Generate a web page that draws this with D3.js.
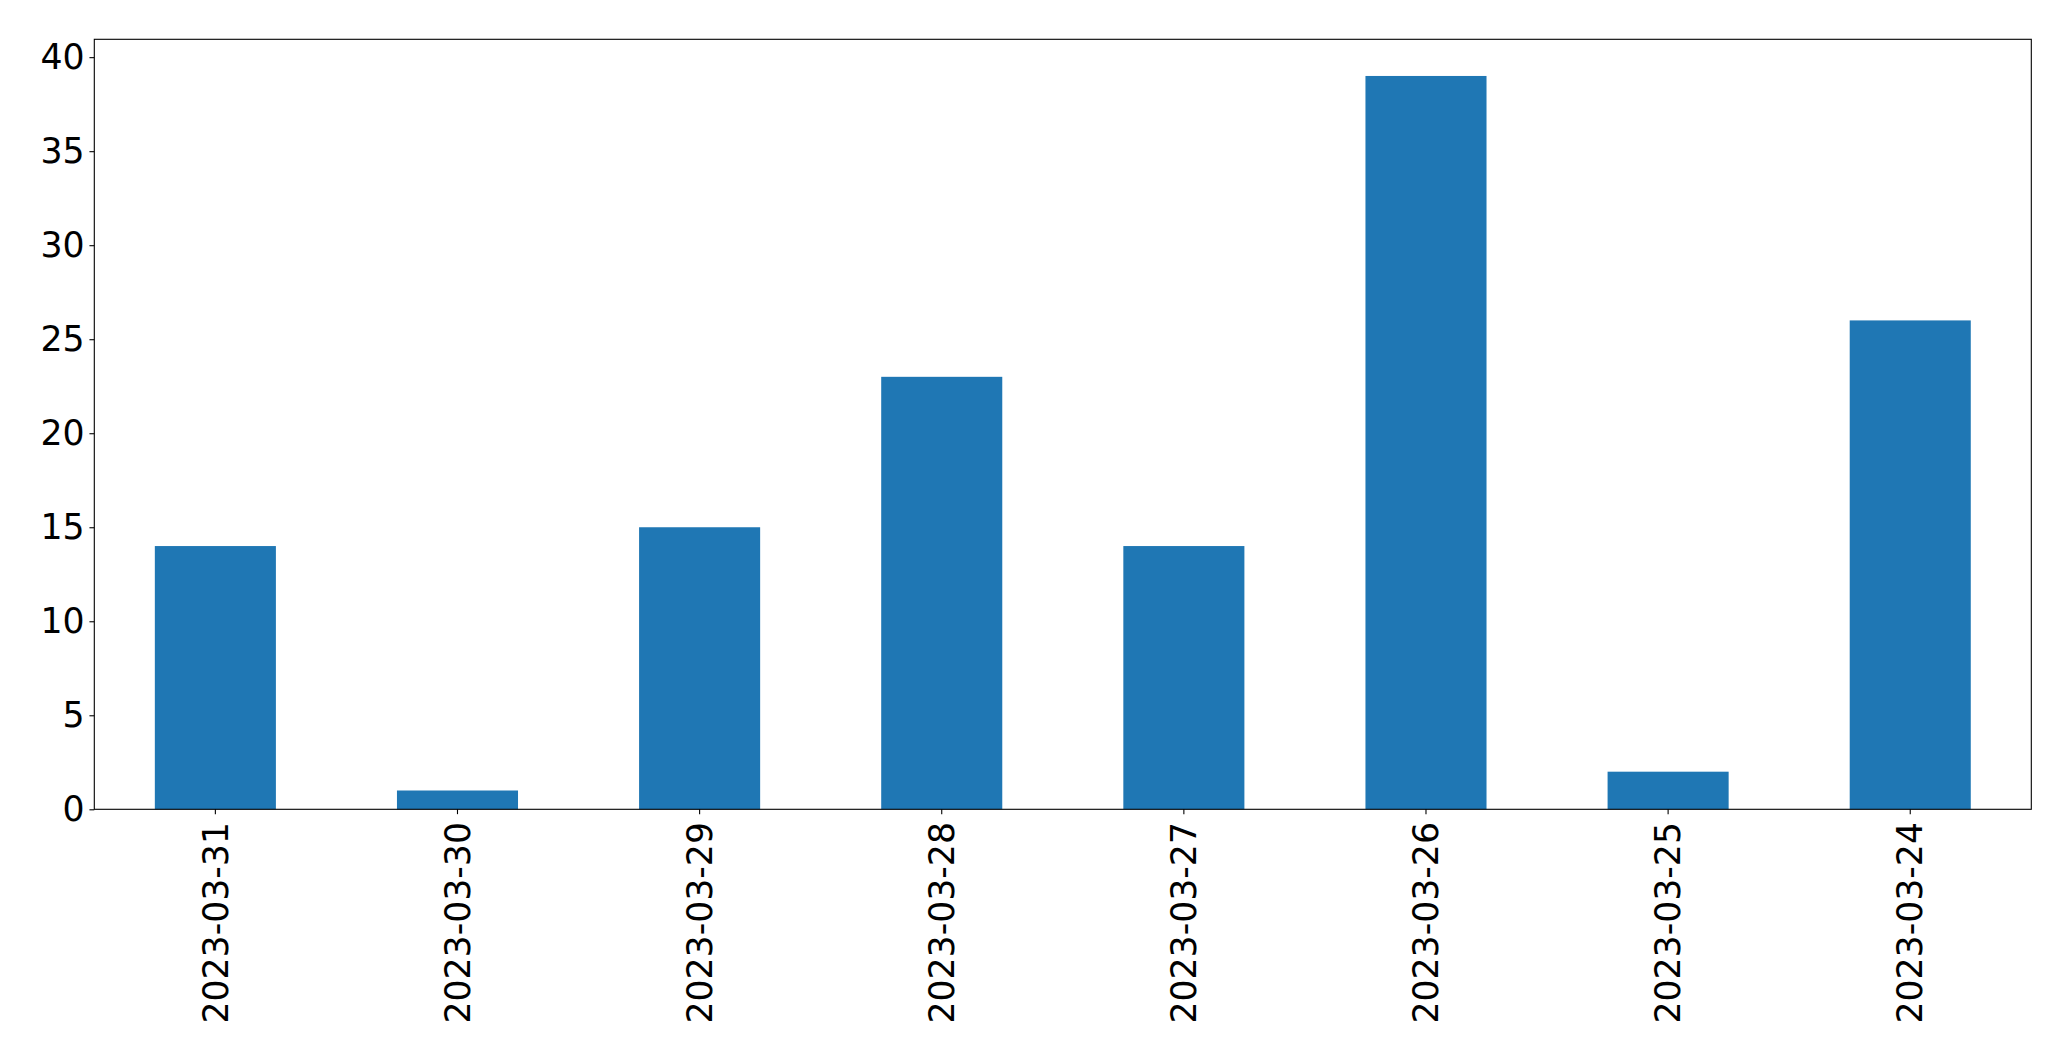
<!DOCTYPE html>
<html>
<head>
<meta charset="utf-8">
<script src="https://cdn.jsdelivr.net/npm/d3@7"></script>
<style>
  html, body { margin: 0; padding: 0; background: #fff; }
  svg { display: block; }
  text { font-family: "DejaVu Sans", sans-serif; fill: #000; }
</style>
</head>
<body>
<script>
const categories = ["2023-03-31", "2023-03-30", "2023-03-29", "2023-03-28", "2023-03-27", "2023-03-26", "2023-03-25", "2023-03-24"];
const values = [14, 1, 15, 23, 14, 39, 2, 26];
const yTicks = [0, 5, 10, 15, 20, 25, 30, 35, 40];

const W = 2071, H = 1061;
const margin = { left: 94.3, right: W - 2031.3, top: 39.3, bottom: H - 809.3 };
const innerW = W - margin.left - margin.right;
const innerH = H - margin.top - margin.bottom;

const svg = d3.select("body").append("svg").attr("width", W).attr("height", H);
const g = svg.append("g").attr("transform", `translate(${margin.left},${margin.top})`);

const x = d3.scaleBand().domain(categories).range([0, innerW]).paddingInner(0.5).paddingOuter(0.25);
const yMax = d3.max(values) * 1.05;
const y = d3.scaleLinear().domain([0, yMax]).range([innerH, 0]);

g.selectAll("rect.bar").data(values).enter().append("rect")
  .attr("class", "bar")
  .attr("x", (d, i) => x(categories[i]))
  .attr("width", x.bandwidth())
  .attr("y", d => y(d))
  .attr("height", d => innerH - y(d))
  .attr("fill", "#1f77b4");

const fontSize = 34.7;
const tickLen = 4.86;
const pad = 4.86;

const yAxis = d3.axisLeft(y).tickValues(yTicks).tickSize(tickLen).tickPadding(pad).tickFormat(d3.format("d"));
const ya = g.append("g").call(yAxis);
ya.select(".domain").remove();
ya.selectAll(".tick line").attr("stroke", "#000").attr("stroke-width", 1.1);
ya.selectAll(".tick text").attr("font-size", fontSize).attr("font-family", "DejaVu Sans").attr("fill", "#000");

const xAxis = d3.axisBottom(x).tickSize(tickLen).tickPadding(pad);
const xa = g.append("g").attr("transform", `translate(0,${innerH})`).call(xAxis);
xa.select(".domain").remove();
xa.selectAll(".tick line").attr("stroke", "#000").attr("stroke-width", 1.1);
xa.selectAll(".tick text")
  .attr("font-size", fontSize)
  .attr("font-family", "DejaVu Sans")
  .attr("fill", "#000")
  .attr("y", 0).attr("dy", "0.35em")
  .attr("transform", `translate(0,${tickLen + pad + 3}) rotate(-90)`)
  .attr("text-anchor", "end");

g.append("rect")
  .attr("x", 0).attr("y", 0).attr("width", innerW).attr("height", innerH)
  .attr("fill", "none").attr("stroke", "#000").attr("stroke-width", 1.1);
</script>
</body>
</html>
